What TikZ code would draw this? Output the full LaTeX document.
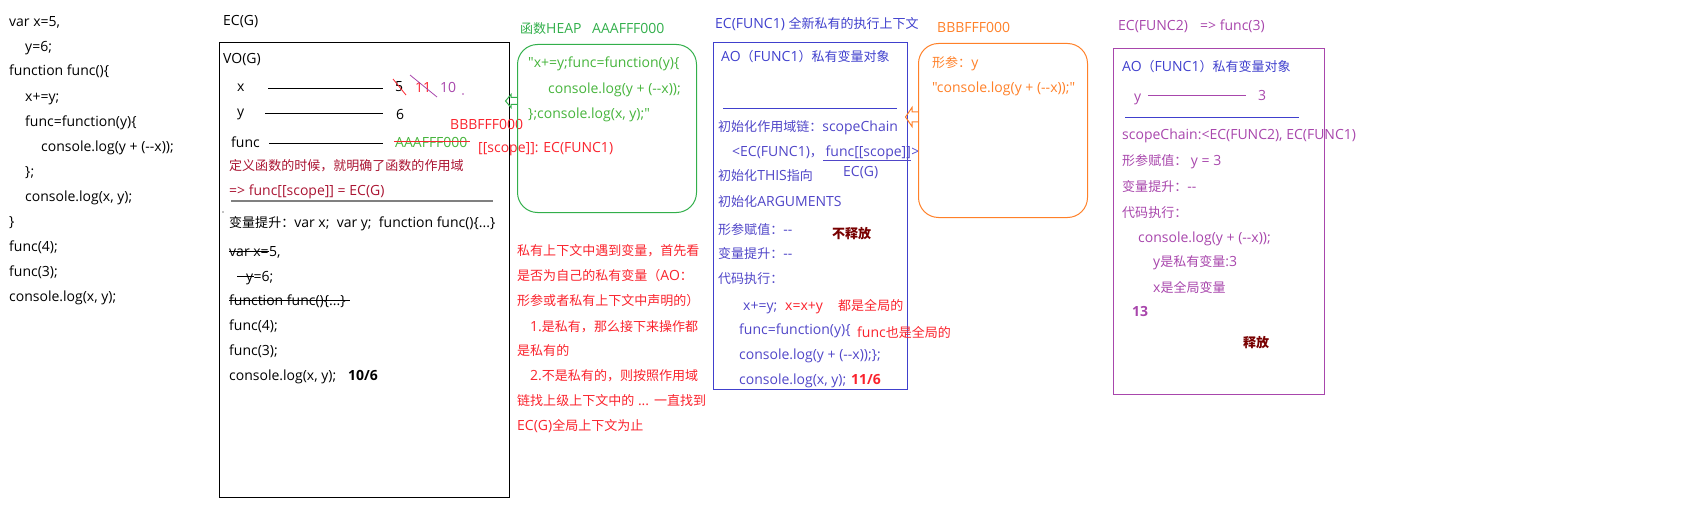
\documentclass[tikz,border=0pt]{standalone}
\usepackage{fontspec}
\newfontfamily\latinfont{Open Sans}
\newfontfamily\cjkfont{Noto Sans CJK SC}[Scale=0.93]
\newXeTeXintercharclass\cjkcls
\newcount\cjkcc
\def\cjkrange#1#2{\cjkcc=#1\relax\loop\XeTeXcharclass\cjkcc=\cjkcls\advance\cjkcc by 1\relax\ifnum\cjkcc<#2\repeat}
\cjkrange{"3000}{"3040}
\cjkrange{"4E00}{"A000}
\cjkrange{"FF00}{"FFF0}
\XeTeXinterchartoks 0 \cjkcls = {\cjkfont}
\XeTeXinterchartoks 4095 \cjkcls = {\cjkfont}
\XeTeXinterchartoks \cjkcls 0 = {\latinfont}
\XeTeXinterchartoks \cjkcls 4095 = {\latinfont}
\XeTeXinterchartokenstate=1
\definecolor{dred}{RGB}{170,20,50}
\definecolor{rred}{RGB}{250,35,45}
\definecolor{bred}{RGB}{120,0,0}
\definecolor{hgreen}{RGB}{50,175,75}
\definecolor{tgreen}{RGB}{70,180,60}
\definecolor{bblue}{RGB}{64,64,205}
\definecolor{tblue}{RGB}{80,70,200}
\definecolor{orng}{RGB}{255,128,40}
\definecolor{purp}{RGB}{168,70,172}
\begin{document}
\begin{tikzpicture}[x=1pt,y=-1pt,
  every node/.style={font=\fontsize{14}{17}\latinfont},
  t/.style={anchor=base west,inner sep=0pt,yshift=-5pt},
  tt/.style={anchor=base west,inner sep=0pt},
  ln/.style={line width=1pt},
  box/.style={draw,line width=1pt,anchor=north west,inner sep=0pt},
  bld/.style={font=\fontsize{14}{17}\bfseries\latinfont}]
\useasboundingbox (0,0) rectangle (1701,532);
% ---------------- left code
\node[t] (c1) at (9,21.7) {var x=5,};
\node[t] (c2) at (25,46.7) {y=6;};
\node[t] (c3) at (9,71) {function func()\{};
\node[t] (c4) at (25,96.7) {x+=y;};
\node[t] (c5) at (25,121.7) {func=function(y)\{};
\node[t] (c6) at (41,146.7) {console.log(y + (-{}-x));};
\node[t] (c7) at (25,171.7) {\};};
\node[t] (c8) at (25,196.7) {console.log(x, y);};
\node[t] (c9) at (9,221.7) {\}};
\node[t] (c10) at (9,246.7) {func(4);};
\node[t] (c11) at (9,271.7) {func(3);};
\node[t] (c12) at (9,296.7) {console.log(x, y);};
% ---------------- EC(G)
\node[t] (ecgl) at (223,21) {EC(G)};
\node[box,draw=black,minimum width=290pt,minimum height=455pt] (ecgbox) at (219,42) {};
\node[t] (vog) at (223,59) {VO(G)};
\node[t] (vx) at (237,87) {x};
\node[t] (vy) at (237,112) {y};
\node[t] (vf) at (231,143) {func};
\coordinate (lxa) at (268,89); \coordinate (lxb) at (383,89);
\coordinate (lya) at (265,114); \coordinate (lyb) at (383,114);
\coordinate (lfa) at (269,144); \coordinate (lfb) at (383,144);
\draw[ln] (lxa) -- (lxb); \draw[ln] (lya) -- (lyb); \draw[ln] (lfa) -- (lfb);
\node[t] (v5) at (395,87) {5};
\node[t,text=rred] (v11) at (415,88) {11};
\node[t,text=purp] (v10) at (440,88) {10};
\coordinate (s5a) at (393,79); \coordinate (s5b) at (406,95);
\draw[rred,line width=0.8pt] (s5a) -- (s5b);
\coordinate (s11a) at (410,75); \coordinate (s11b) at (437,97);
\draw[purp,line width=0.8pt] (s11a) -- (s11b);
\coordinate (pdot) at (463,94); \fill[purp] (pdot) circle (0.8pt);
\node[t] (v6) at (396,115) {6};
\node[t,text=tgreen] (vaaa) at (395,143) {AAAFFF000};
\draw[rred,ln] ([xshift=-1pt,yshift=6pt]vaaa.base west) -- ([xshift=2pt,yshift=6pt]vaaa.base east);
\node[t,text=rred] (vbbb) at (450,125) {BBBFFF000};
\node[t,text=rred] (vscope) at (478,148) {[[scope]]: EC(FUNC1)};
\node[t,text=dred] (def1) at (229,166) {定义函数的时候，就明确了函数的作用域};
\node[t,text=dred] (def2) at (229,191) {=> func[[scope]] = EC(G)};
\coordinate (gla) at (231,201); \coordinate (glb) at (493,201);
\draw[gray,ln] (gla) -- (glb);
\coordinate (bdot) at (223,212); \fill (bdot) circle (0.6pt);
\node[t] (hoist) at (229,222) {变量提升：var x;\ \ var y;\ \ function func()\{...\}};
\node[t] (e1a) at (229,251) {var x=};
\node[tt] (e1b) at (e1a.base east) {5,};
\draw[ln] ([yshift=4.5pt]e1a.base west) -- ([yshift=4.5pt]e1a.base east);
\node[t] (e2a) at (246,276) {y};
\node[tt] (e2b) at (e2a.base east) {=6;};
\draw[ln] ([xshift=-9pt,yshift=4.5pt]e2a.base west) -- ([xshift=1pt,yshift=4.5pt]e2a.base east);
\node[t] (e3) at (229,300) {function func()\{...\}};
\draw[ln] ([yshift=4.5pt]e3.base west) -- ([xshift=4pt,yshift=4.5pt]e3.base east);
\node[t] (e4) at (229,325) {func(4);};
\node[t] (e5) at (229,350) {func(3);};
\node[t] (e6) at (229,375) {console.log(x, y);};
\node[t,bld] (e6r) at (348,375) {10/6};
% ---------------- heap AAAFFF000
\node[t,text=hgreen] (heapl) at (520,29) {函数HEAP};
\node[t,text=hgreen] (heapl2) at (592,29) {AAAFFF000};
\node[box,draw=hgreen,rounded corners=20pt,minimum width=179pt,minimum height=168pt] (heapa) at (517,44) {};
\draw[hgreen,ln] (517,97.5) -- (511,97.5) -- (511,94.5) -- (505.5,101) -- (511,107.5) -- (511,104.5) -- (517,104.5);
\node[t,text=tgreen] (h1) at (528,63) {"x+=y;func=function(y)\{};
\node[t,text=tgreen] (h2) at (548,89) {console.log(y + (-{}-x));};
\node[t,text=tgreen] (h3) at (528,114) {\};console.log(x, y);"};
% ---------------- red paragraph
\node[t,text=rred] (p1) at (517,250) {私有上下文中遇到变量，首先看};
\node[t,text=rred] (p2) at (517,275) {是否为自己的私有变量（AO：};
\node[t,text=rred] (p3) at (517,300) {形参或者私有上下文中声明的）};
\node[t,text=rred] (p4) at (530,326) {1.是私有，那么接下来操作都};
\node[t,text=rred] (p5) at (517,350) {是私有的};
\node[t,text=rred] (p6) at (530,375) {2.不是私有的，则按照作用域};
\node[t,text=rred] (p7) at (517,400) {链找上级上下文中的 ... 一直找到};
\node[t,text=rred] (p8) at (517,425) {EC(G)全局上下文为止};
% ---------------- EC(FUNC1)
\node[t,text=bblue] (f1l) at (715,24) {EC(FUNC1) 全新私有的执行上下文};
\node[box,draw=bblue,minimum width=194pt,minimum height=347pt] (f1box) at (713,42) {};
\node[t,text=bblue] (f1ao) at (721,57) {AO（FUNC1）私有变量对象};
\coordinate (f1la) at (723,109); \coordinate (f1lb) at (897,109);
\draw[bblue,ln] (f1la) -- (f1lb);
\node[t,text=tblue] (f1a) at (718,127) {初始化作用域链：scopeChain};
\node[t,text=tblue] (f1b1) at (732,152) {<EC(FUNC1)，};
\node[tt,text=tblue] (f1b2) at (f1b1.base east) {\,func[[scope]]};
\node[tt,text=tblue] (f1b3) at (f1b2.base east) {>};
\draw[tblue,line width=0.8pt] ([yshift=-3pt]f1b2.base west) -- ([yshift=-3pt]f1b2.base east);
\node[t,text=tblue] (f1g) at (843,172) {EC(G)};
\node[t,text=tblue] (f1c) at (718,176) {初始化THIS指向};
\node[t,text=tblue] (f1d) at (718,202) {初始化ARGUMENTS};
\node[t,text=tblue] (f1e) at (718,229) {形参赋值：-{}-};
\node[t,bld,text=bred] (f1keep) at (832,233) {不释放};
\node[t,text=tblue] (f1f) at (718,253) {变量提升：-{}-};
\node[t,text=tblue] (f1h) at (718,278) {代码执行：};
\node[t,text=tblue] (f1i) at (743,305) {x+=y;};
\node[t,text=rred] (f1i2) at (785,305) {x=x+y};
\node[t,text=rred] (f1i3) at (838,305) {都是全局的};
\node[t,text=tblue] (f1j) at (739,329) {func=function(y)\{};
\node[t,text=rred] (f1j2) at (857,332) {func也是全局的};
\node[t,text=tblue] (f1k) at (739,354) {console.log(y + (-{}-x));\};};
\node[t,text=tblue] (f1m) at (739,379) {console.log(x, y);};
\node[t,bld,text=rred] (f1r) at (851,379) {11/6};
% ---------------- heap BBBFFF000
\node[t,text=orng] (hbl) at (937,28) {BBBFFF000};
\node[box,draw=orng,rounded corners=20pt,minimum width=169pt,minimum height=174pt] (heapb) at (918,43) {};
\draw[orng,ln] (918,112) -- (912,112) -- (912,107.5) -- (905.5,117) -- (912,126.5) -- (912,122) -- (918,122);
\node[t,text=orng] (hb1) at (932,63) {形参：y};
\node[t,text=orng] (hb2) at (932,88) {"console.log(y + (-{}-x));"};
% ---------------- EC(FUNC2)
\node[t,text=purp] (f2l) at (1118,26) {EC(FUNC2)};
\node[t,text=purp] (f2l2) at (1200,26) {=> func(3)};
\node[box,draw=purp,minimum width=211pt,minimum height=346pt] (f2box) at (1113,48) {};
\node[t,text=bblue] (f2ao) at (1122,67) {AO（FUNC1）私有变量对象};
\node[t,text=purp] (f2y) at (1134,97) {y};
\coordinate (f2ya) at (1148,96); \coordinate (f2yb) at (1246,96);
\draw[purp,ln] (f2ya) -- (f2yb);
\node[t,text=purp] (f2y3) at (1258,96) {3};
\coordinate (f2la) at (1125,118); \coordinate (f2lb) at (1299,118);
\draw[bblue,ln] (f2la) -- (f2lb);
\node[t,text=purp] (f2a) at (1122,135) {scopeChain:<EC(FUNC2), EC(FUNC1)};
\node[t,text=purp] (f2b) at (1122,161) {形参赋值： y = 3};
\node[t,text=purp] (f2c) at (1122,186) {变量提升：-{}-};
\node[t,text=purp] (f2d) at (1122,212) {代码执行：};
\node[t,text=purp] (f2e) at (1138,237) {console.log(y + (-{}-x));};
\node[t,text=purp] (f2f) at (1153,261) {y是私有变量:3};
\node[t,text=purp] (f2g) at (1153,287) {x是全局变量};
\node[t,bld,text=purp] (f2h) at (1132,311) {13};
\node[t,bld,text=bred] (f2rel) at (1243,342) {释放};
\end{tikzpicture}
\end{document}
